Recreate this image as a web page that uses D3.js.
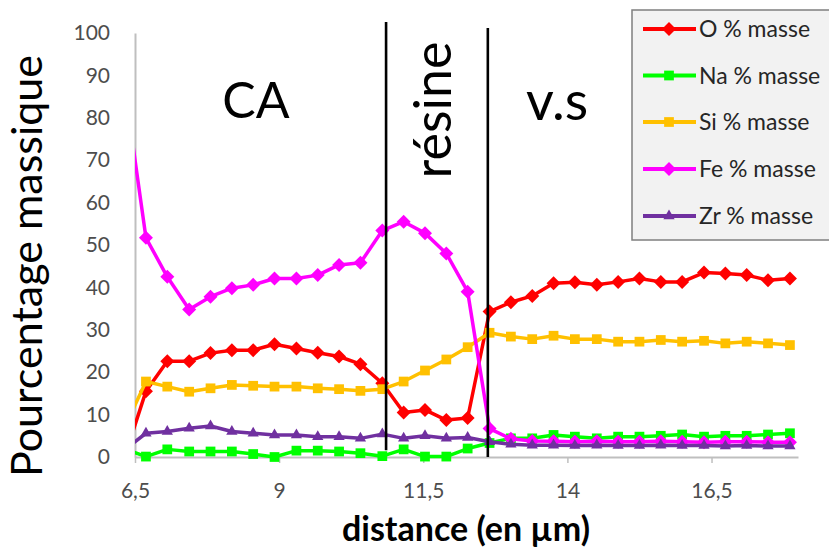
<!DOCTYPE html>
<html>
<head>
<meta charset="utf-8">
<script src="https://cdn.jsdelivr.net/npm/d3@7"></script>
<style>
  html, body { margin: 0; padding: 0; background: #ffffff; }
  svg { display: block; }
</style>
</head>
<body>
<svg id="chart" width="829" height="550"></svg>
<script>
// ---------- data ----------
const distance = [6.32, 6.69, 7.06, 7.44, 7.81, 8.18, 8.55, 8.92, 9.30, 9.67, 10.04, 10.41, 10.79, 11.16, 11.53, 11.90, 12.27, 12.65, 13.02, 13.39, 13.76, 14.13, 14.51, 14.88, 15.25, 15.62, 15.99, 16.37, 16.74, 17.11, 17.48, 17.86];
const O_masse  = [0, 15.5, 22.6, 22.6, 24.5, 25.2, 25.2, 26.6, 25.6, 24.6, 23.7, 21.9, 17.4, 10.5, 11.1, 8.7, 9.2, 34.3, 36.5, 38.0, 41.0, 41.2, 40.6, 41.3, 42.1, 41.3, 41.3, 43.5, 43.3, 42.9, 41.7, 42.1];
const Na_masse = [1.9, 0.1, 1.8, 1.3, 1.3, 1.3, 0.7, 0.0, 1.5, 1.5, 1.3, 0.9, 0.2, 1.8, 0.1, 0.1, 2.0, 3.3, 4.4, 4.4, 5.2, 4.8, 4.4, 4.8, 4.8, 5.0, 5.3, 4.8, 5.0, 5.0, 5.3, 5.6];
const Si_masse = [7.0, 17.8, 16.6, 15.4, 16.2, 17.0, 16.8, 16.6, 16.6, 16.2, 16.0, 15.6, 16.0, 17.8, 20.4, 23.0, 25.9, 29.3, 28.4, 27.8, 28.6, 27.8, 27.8, 27.2, 27.2, 27.6, 27.2, 27.4, 26.8, 27.2, 26.8, 26.4];
const Fe_masse = [87.5, 51.7, 42.5, 34.8, 37.8, 39.8, 40.6, 42.1, 42.1, 42.9, 45.3, 45.8, 53.4, 55.5, 52.8, 48.0, 39.0, 6.7, 4.3, 3.8, 3.7, 3.6, 3.7, 3.6, 3.6, 3.7, 3.6, 3.5, 3.6, 3.6, 3.5, 3.5];
const Zr_masse = [1.7, 5.6, 6.0, 6.8, 7.3, 6.0, 5.6, 5.2, 5.2, 4.8, 4.8, 4.4, 5.4, 4.4, 5.0, 4.4, 4.6, 3.6, 3.0, 2.8, 2.8, 2.7, 2.8, 2.7, 2.7, 2.8, 2.7, 2.7, 2.6, 2.7, 2.6, 2.6];

const seriesNames  = ["O % masse", "Na % masse", "Si % masse", "Fe % masse", "Zr % masse"];
const seriesValues = [O_masse, Na_masse, Si_masse, Fe_masse, Zr_masse];
const seriesColors = ["#ff0000", "#00ff00", "#ffc000", "#ff00ff", "#7030a0"];
const seriesMarkers = ["diamond", "square", "square", "diamond", "triangle"];

const xTicks = [6.5, 9, 11.5, 14, 16.5];
const xTickLabels = ["6,5", "9", "11,5", "14", "16,5"];
const yTicks = [0, 10, 20, 30, 40, 50, 60, 70, 80, 90, 100];

// zone boundaries (vertical separators) and zone labels
const boundaryX = [10.855, 12.62];
const boundaryTop = [102.6, 101.2];
const boundaryBottom = [1.6, 0];
const zoneLabels = ["CA", "résine", "v.s"];

const xTitle = "distance (en µm)";
const yTitle = "Pourcentage massique";

// ---------- layout ----------
const svg = d3.select("#chart");
const plotLeft = 135, plotRight = 798, plotTop = 33, plotBottom = 457;
const x = d3.scaleLinear().domain([6.5, 18]).range([plotLeft, plotRight]);
const y = d3.scaleLinear().domain([0, 100]).range([plotBottom, plotTop]);
const FONT = "Lato, 'Open Sans', sans-serif";

svg.append("defs").append("clipPath").attr("id", "plotclip")
  .append("rect").attr("x", plotLeft).attr("y", 0).attr("width", plotRight - plotLeft).attr("height", plotBottom + 10);

// axes
const xAxis = d3.axisBottom(x).tickValues(xTicks)
  .tickFormat((d, i) => xTickLabels[i]).tickSize(6).tickSizeOuter(0).tickPadding(20);
const gx = svg.append("g").attr("transform", `translate(0,${plotBottom})`).call(xAxis);
gx.select(".domain").attr("stroke", "#bfbfbf").attr("stroke-width", 2);
gx.selectAll(".tick line").attr("stroke", "#bfbfbf").attr("stroke-width", 1.5);
gx.selectAll(".tick text").attr("fill", "#4d4d4d").style("font-family", FONT).style("font-size", "21px");

const yAxis = d3.axisLeft(y).tickValues(yTicks).tickSize(0).tickSizeOuter(0).tickPadding(25);
const gy = svg.append("g").attr("transform", `translate(${plotLeft},0)`).call(yAxis);
gy.select(".domain").attr("stroke", "#bfbfbf").attr("stroke-width", 2);
gy.selectAll(".tick text").attr("fill", "#4d4d4d").style("font-family", FONT).style("font-size", "21px");

// symbols
function symbolPath(kind) {
  if (kind === "diamond") return "M0,-7L7,0L0,7L-7,0Z";
  if (kind === "square") return d3.symbol().type(d3.symbolSquare).size(95)();
  return d3.symbol().type(d3.symbolTriangle).size(55)();
}

// series
const plot = svg.append("g").attr("clip-path", "url(#plotclip)");
seriesValues.forEach((vals, s) => {
  const pts = distance.map((d, i) => [d, vals[i]]);
  const g = plot.append("g");
  g.append("path")
    .attr("d", d3.line().x(d => x(d[0])).y(d => y(d[1]))(pts))
    .attr("fill", "none").attr("stroke", seriesColors[s])
    .attr("stroke-width", 3.5).attr("stroke-linejoin", "round");
  g.selectAll("path.m").data(pts).join("path").attr("class", "m")
    .attr("d", symbolPath(seriesMarkers[s]))
    .attr("transform", d => `translate(${x(d[0])},${y(d[1])})`)
    .attr("fill", seriesColors[s]);
});

// separators
boundaryX.forEach((bx, i) => {
  svg.append("line")
    .attr("x1", x(bx)).attr("x2", x(bx))
    .attr("y1", y(boundaryTop[i])).attr("y2", y(boundaryBottom[i]))
    .attr("stroke", "#000").attr("stroke-width", 2.6);
});

// zone labels
svg.append("text").text(zoneLabels[0]).attr("x", 256).attr("y", 118)
  .attr("text-anchor", "middle").style("font-family", FONT).style("font-size", "50px").attr("fill", "#000");
svg.append("text").text(zoneLabels[1])
  .attr("transform", "translate(451,110) rotate(-90)")
  .attr("text-anchor", "middle").style("font-family", FONT).style("font-size", "52px").attr("fill", "#000");
svg.append("text").text(zoneLabels[2]).attr("x", 557).attr("y", 120)
  .attr("text-anchor", "middle").style("font-family", FONT).style("font-size", "54px").attr("fill", "#000");

// axis titles
svg.append("text").text(xTitle).attr("x", 466).attr("y", 541)
  .attr("text-anchor", "middle").style("font-family", FONT).style("font-size", "34px")
  .style("font-weight", "bold").attr("fill", "#000");
svg.append("text").text(yTitle)
  .attr("transform", "translate(42,266) rotate(-90)")
  .attr("text-anchor", "middle").style("font-family", FONT).style("font-size", "43px").attr("fill", "#000");

// legend
const lg = svg.append("g");
lg.append("rect").attr("x", 632).attr("y", 10).attr("width", 210).attr("height", 230)
  .attr("fill", "#f2f2f2").attr("stroke", "#7f7f7f").attr("stroke-width", 1.5);
const rowY = [29, 75.5, 122, 169, 216];
seriesNames.forEach((name, s) => {
  const ry = rowY[s];
  lg.append("line").attr("x1", 643).attr("x2", 696).attr("y1", ry).attr("y2", ry)
    .attr("stroke", seriesColors[s]).attr("stroke-width", 4);
  lg.append("path").attr("d", symbolPath(seriesMarkers[s]))
    .attr("transform", `translate(669,${ry})`).attr("fill", seriesColors[s]);
  lg.append("text").text(name).attr("x", 699).attr("y", ry).attr("dy", "0.35em")
    .style("font-family", FONT).style("font-size", "23px").attr("fill", "#262626");
});
</script>
</body>
</html>
